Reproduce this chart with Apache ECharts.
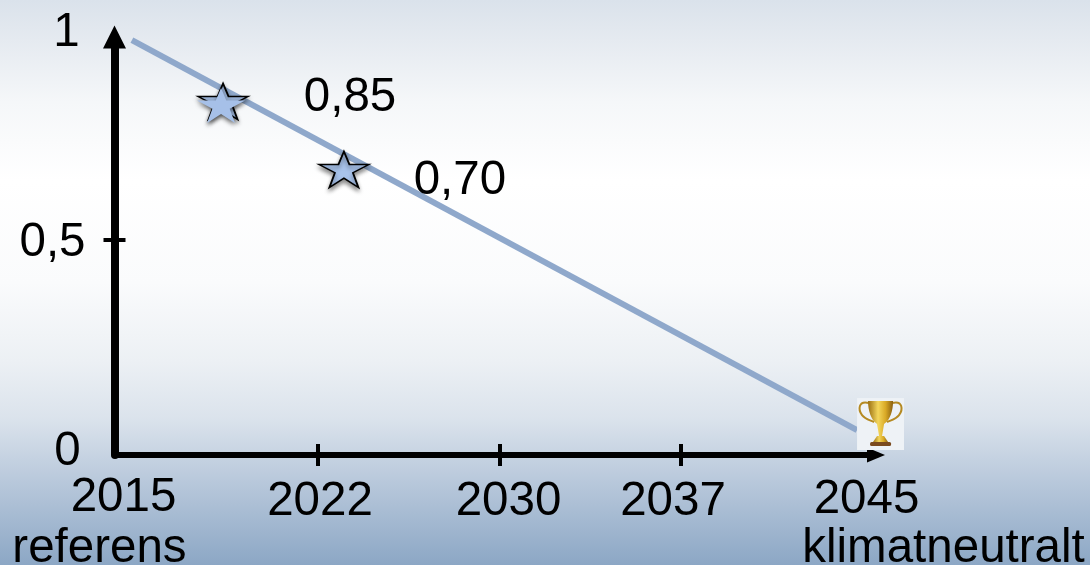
<!DOCTYPE html>
<html>
<head>
<meta charset="utf-8">
<style>html,body{margin:0;padding:0;background:#fff}#chart{width:1090px;height:565px}</style>
<script src="https://cdn.jsdelivr.net/npm/echarts@6/dist/echarts.min.js"></script>
</head>
<body>
<div id="chart"></div>
<script>
// Emission index against milestone years; milestones are evenly spaced slots on the x axis.
const yearLabels = ['2015', '2022', '2030', '2037', '2045'];
const yearSlots = [0, 1, 2, 3, 4];
const yearNotes = ['referens', '', '', '', 'klimatneutralt'];
const pathway = [[-0.025, 0.965], [3.97, 0.058]];
const milestones = [[0.477, 0.85], [1.143, 0.70]];
const yTicks = [0, 0.5, 1];
const comma = v => String(v).replace('.', ',');

const STAR = 'path://M50 0L61 36L100 36L68 59L79 100L50 74L21 100L32 59L0 36L39 36Z';
const TROPHY = 'image://data:image/svg+xml,' + encodeURIComponent(
  '<svg xmlns="http://www.w3.org/2000/svg" width="47" height="52" viewBox="0 0 47 52">' +
  '<defs><linearGradient id="g" x1="0" x2="1" y1="0" y2="0">' +
  '<stop offset="0" stop-color="#9a6f12"/><stop offset=".4" stop-color="#f3d65c"/>' +
  '<stop offset=".7" stop-color="#d9a926"/><stop offset="1" stop-color="#8a5f10"/></linearGradient></defs>' +
  '<rect width="47" height="52" fill="#eef2f6"/>' +
  '<path d="M12 5C1 2 1 12 5 17C8 21 13 22 17 24M35 5C46 2 46 12 42 17C39 21 34 22 30 24" fill="none" stroke="#b58a22" stroke-width="2"/>' +
  '<path d="M11 3H36C36 13 33 22 27 26L25 38H22L20 26C14 22 11 13 11 3Z" fill="url(#g)"/>' +
  '<path d="M20 38H27L31 44H16Z" fill="url(#g)"/>' +
  '<rect x="13" y="44" width="21" height="4" rx="1.5" fill="#7a4a1e"/></svg>');

const font = { color: '#000', fontFamily: 'Liberation Sans', fontSize: 47.5 };
// Per-label nudges from the axis position to where each caption sits.
const yearNudge = [[-13, 43], [2, 47], [9, 47], [-8, 47], [4, 45]];
const noteNudge = [[-37, 94], null, null, null, [81, 94]];
const tickNudge = { 0: [-47, -3], 0.5: [-62, 3], 1: [-48, 8] };
const starDrop = [12, 15.5];

const xRange = { type: 'value', min: -0.121, max: 4.124, splitLine: { show: false }, axisLabel: { show: false } };
const yRange = { type: 'value', min: 0, max: 1, splitLine: { show: false }, axisLabel: { show: false } };
const heavy = c => ({ show: true, length: 11, customValues: c, lineStyle: { color: '#000', width: 4 } });
const noLine = { show: false, onZero: false };
const arrowLine = (size, width) => ({
  show: true, onZero: false, symbol: ['none', 'triangle'], symbolSize: size, lineStyle: { color: '#000', width }
});

const captionPoint = (x, y, text, nudge) => ({
  value: [x, y],
  label: { show: true, formatter: text, position: 'inside', offset: nudge, ...font }
});

const option = {
  animation: false,
  backgroundColor: {
    type: 'linear', x: 0, y: 0, x2: 0, y2: 1,
    colorStops: [
      { offset: 0, color: '#dae2eb' }, { offset: 0.07, color: '#e5eaf0' },
      { offset: 0.18, color: '#f5f7f9' }, { offset: 0.32, color: '#ffffff' },
      { offset: 0.5, color: '#fafbfc' }, { offset: 0.64, color: '#ecf0f4' },
      { offset: 0.74, color: '#dbe3ec' }, { offset: 0.84, color: '#bccbdd' },
      { offset: 1, color: '#8ca7c5' }
    ]
  },
  // First grid holds the scales and ticks; second one only carries the arrow-headed axis lines,
  // which stop at the middle of their arrowheads.
  grid: [
    { left: 114.5, right: 205, top: 25, bottom: 110 },
    { left: 114.5, right: 214, top: 37, bottom: 110 }
  ],
  xAxis: [
    { ...xRange, position: 'bottom', axisLine: noLine, axisTick: heavy([1, 2, 3]) },
    { ...xRange, position: 'bottom', axisLine: noLine, axisTick: { ...heavy([1, 2, 3]), inside: true } },
    { ...xRange, gridIndex: 1, position: 'bottom', axisTick: { show: false }, axisLine: arrowLine([15, 18], 6) }
  ],
  yAxis: [
    { ...yRange, position: 'left', axisLine: noLine, axisTick: heavy([0.5]) },
    { ...yRange, position: 'left', axisLine: noLine, axisTick: { ...heavy([0.5]), inside: true } },
    { ...yRange, gridIndex: 1, position: 'left', axisTick: { show: false }, axisLine: arrowLine([23, 23], 8) }
  ],
  series: [
    { type: 'line', data: pathway, symbol: 'none', lineStyle: { color: '#8fa8cb', width: 6, cap: 'butt' }, z: 3 },
    // Trophy sits just past the end of the pathway.
    { type: 'scatter', data: [pathway[1]], symbol: TROPHY, symbolSize: [47, 52], symbolOffset: [23.5, -6],
      itemStyle: { opacity: 1 }, z: 4 },
    // Dark outline stars
    { type: 'scatter', symbol: STAR, symbolSize: [50, 36],
      data: milestones.map((m, i) => ({ value: m, symbolOffset: [0, starDrop[i]] })),
      itemStyle: { opacity: 1, color: '#a9c4ec', borderColor: '#000', borderWidth: 1.6, shadowBlur: 4, shadowOffsetY: 3, shadowColor: 'rgba(0,0,0,.45)' },
      z: 5 },
    // Borderless star laid over the first milestone
    { type: 'scatter', data: [milestones[0]], symbol: STAR, symbolSize: [48, 35], symbolOffset: [-2, 16],
      itemStyle: { opacity: 1, color: '#a6c0e8', shadowBlur: 4, shadowOffsetY: 3, shadowColor: 'rgba(0,0,0,.45)' },
      z: 6 },
    // Text captions anchored on their axis positions and milestones
    { type: 'scatter', symbolSize: 0, silent: true, z: 7, itemStyle: { opacity: 1 },
      data: [
        ...yearSlots.map((s, i) => captionPoint(s, 0, yearLabels[i], yearNudge[i])),
        ...yearSlots.filter(i => yearNotes[i]).map(i => captionPoint(i, 0, yearNotes[i], noteNudge[i])),
        ...yTicks.map(t => captionPoint(-0.121, t, comma(t), tickNudge[t])),
        captionPoint(milestones[0][0], milestones[0][1], comma(milestones[0][1]), [127, 8]),
        captionPoint(milestones[1][0], milestones[1][1], comma(milestones[1][1].toFixed(2)), [116, 27])
      ] }
  ]
};

const chart = echarts.init(document.getElementById('chart'), null, { renderer: 'canvas' });
chart.setOption(option);
</script>
</body>
</html>
